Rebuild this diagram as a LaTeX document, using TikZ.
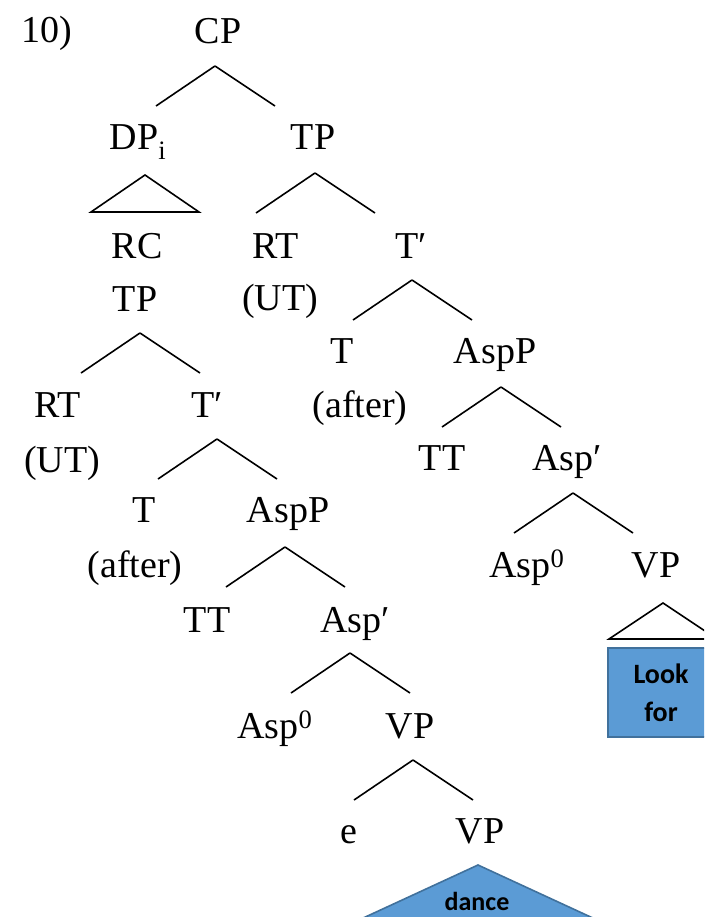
\documentclass[tikz,border=0pt]{standalone}
\usepackage{fontspec}
\setmainfont{Liberation Serif}
\newfontfamily\boxfont{Carlito}
\usepackage{tikz}
\definecolor{boxblue}{HTML}{5B9BD5}
\definecolor{boxedge}{HTML}{41719C}

\begin{document}
\begin{tikzpicture}[
	x=1pt, y=-1pt,
	lab/.style={anchor=base, inner sep=0pt, font=\fontsize{38}{44}\selectfont},
	leaf/.style={inner sep=0pt, align=center, font=\boxfont\bfseries\fontsize{28}{38}\selectfont},
	branch/.style={line width=1.6pt},
	roof/.style={draw=boxedge, fill=boxblue, line width=1.6pt},
	]
	\useasboundingbox (0,0) rectangle (704,917);
	\clip (0,0) rectangle (704,917);
	%Nodes
	\node[lab] (num)     at (47,43)   {10)};
	\node[lab] (cp)      at (218,44)  {CP};
	\node[lab] (dp)      at (138,150) {DP\textsubscript{i}};
	\node[lab] (tp)      at (313,150) {TP};
	\node[lab] (rc)      at (137,258) {RC};
	\node[lab] (tp2)     at (135,311) {TP};
	\node[lab] (rt)      at (276,258) {RT};
	\node[lab] (ut)      at (280,310) {(UT)};
	\node[lab] (tbar)    at (411,258) {T′};
	\node[lab] (t)       at (342,363) {T};
	\node[lab] (after)   at (360,417) {(after)};
	\node[lab] (aspp)    at (495,363) {AspP};
	\node[lab] (tt)      at (442,470) {TT};
	\node[lab] (aspbar)  at (567,470) {Asp′};
	\node[lab] (asp0)    at (527,577) {Asp\textsuperscript{0}};
	\node[lab] (vp)      at (656,577) {VP};
	\node[lab] (rt2)     at (58,417)  {RT};
	\node[lab] (ut2)     at (62,472)  {(UT)};
	\node[lab] (tbar2)   at (207,417) {T′};
	\node[lab] (t2)      at (144,522) {T};
	\node[lab] (after2)  at (135,577) {(after)};
	\node[lab] (aspp2)   at (288,522) {AspP};
	\node[lab] (tt2)     at (207,632) {TT};
	\node[lab] (aspbar2) at (355,632) {Asp′};
	\node[lab] (asp02)   at (275,738) {Asp\textsuperscript{0}};
	\node[lab] (vp2)     at (410,738) {VP};
	\node[lab] (e)       at (349,843) {e};
	\node[lab] (vp3)     at (480,843) {VP};

	%Roofs
	\draw[branch] (dp.base) ++(7,25) -- ++(-54,37) -- ++(108,0) -- cycle;
	\draw[branch] (vp.base) ++(7,26) -- ++(-54,36) -- ++(108,0) -- cycle;
	\node[leaf, draw=boxedge, fill=boxblue, line width=1.6pt, minimum width=106pt, minimum height=89pt] (look) at (661,692.5) {Look\\for};
	\draw[roof] (vp3.base) ++(-2,22) -- ++(-130,60) -- ++(260,0) -- cycle;
	\node[leaf, anchor=base, font=\boxfont\bfseries\fontsize{26}{30}\selectfont] (dance) at (477,910) {dance};

	%Lines
	\draw[branch] (cp.base) ++(-3,22) -- ++(-59,40) ++(59,-40) -- ++(60,40);
	\draw[branch] (tp.base) ++(2,23) -- ++(-59,40) ++(59,-40) -- ++(60,40);
	\draw[branch] (tbar.base) ++(1,22) -- ++(-59,40) ++(59,-40) -- ++(60,40);
	\draw[branch] (aspp.base) ++(6,24) -- ++(-59,40) ++(59,-40) -- ++(60,40);
	\draw[branch] (aspbar.base) ++(6,23) -- ++(-59,40) ++(59,-40) -- ++(60,40);
	\draw[branch] (tp2.base) ++(5,22) -- ++(-59,40) ++(59,-40) -- ++(60,40);
	\draw[branch] (tbar2.base) ++(10,22) -- ++(-59,40) ++(59,-40) -- ++(60,40);
	\draw[branch] (aspp2.base) ++(-3,25) -- ++(-59,40) ++(59,-40) -- ++(60,40);
	\draw[branch] (aspbar2.base) ++(-5,21) -- ++(-59,40) ++(59,-40) -- ++(60,40);
	\draw[branch] (vp2.base) ++(3,22) -- ++(-59,40) ++(59,-40) -- ++(60,40);
\end{tikzpicture}
\end{document}
